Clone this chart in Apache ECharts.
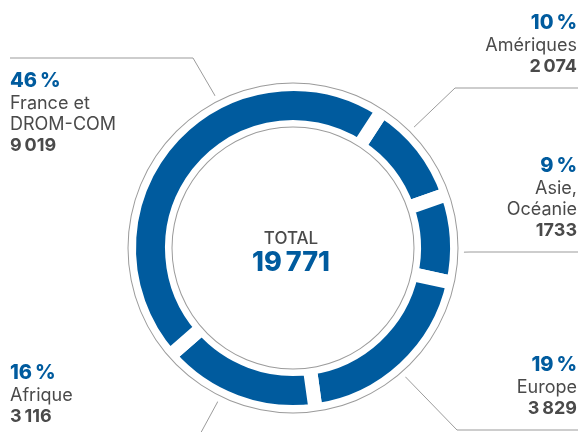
<!DOCTYPE html>
<html>
<head>
<meta charset="utf-8">
<script src="https://cdn.jsdelivr.net/npm/echarts@6/dist/echarts.min.js"></script>
<style>
  html, body { margin: 0; padding: 0; background: #fff; }
  #chart { width: 578px; height: 432px; }
</style>
</head>
<body>
<div id="chart"></div>
<script>
// zones, dans le sens horaire à partir des Amériques
const zones = ["Amériques", "Asie,\nOcéanie", "Europe", "Afrique", "France et\nDROM-COM"];
const effectifs = [2074, 1733, 3829, 3116, 9019];
const effectifsTexte = ["2\u2009074", "1733", "3\u2009829", "3\u2009116", "9\u2009019"];
const totalTexte = "19\u2009771";

const bleu = "#005b9e";
const gris = "#4a4a4a";
const trait = "#9b9b9b";

const chart = echarts.init(document.getElementById("chart"));
const cx = 293, cy = 248, rCercle = 165;

// point sur le cercle extérieur (angle en degrés depuis le haut, sens horaire)
function surCercle(a) {
  const r = a * Math.PI / 180;
  return [cx + rCercle * Math.sin(r), cy - rCercle * Math.cos(r)];
}

// placement des étiquettes et des traits de rappel
const placement = [
  { x: 577, y: 77, align: "right", va: "bottom", a: 45, coude: [455, 88], fin: [578, 88] },
  { x: 577, y: 241, align: "right", va: "bottom", a: 91.5, coude: [470, 252], fin: [578, 252] },
  { x: 577, y: 419, align: "right", va: "bottom", a: 139, coude: [457, 430], fin: [578, 430] },
  { x: 10, y: 427, align: "left", va: "bottom", a: 206, coude: [198, 438], fin: [0, 438] },
  { x: 10, y: 69, align: "left", va: "top", a: 333, coude: [193, 58], fin: [10, 58] }
];

const police = "Inter, 'Noto Sans', sans-serif";

const option = {
  animation: false,
  series: [
    {
      type: "pie",
      center: [cx, cy],
      radius: [121, 164],
      startAngle: 57,
      clockwise: true,
      avoidLabelOverlap: false,
      percentPrecision: 0,
      silent: true,
      itemStyle: {
        color: bleu,
        borderColor: "#fff",
        borderWidth: 14
      },
      label: {
        show: true,
        position: "outside",
        fontFamily: police,
        formatter: function (p) {
          return "{p|" + p.percent + "\u2009%}\n{n|" + p.name + "}\n{v|" + effectifsTexte[p.dataIndex] + "}";
        },
        rich: {
          p: { fontSize: 20, fontWeight: 800, color: bleu, lineHeight: 24, fontFamily: police },
          n: { fontSize: 18, color: gris, lineHeight: 21, fontFamily: police },
          v: { fontSize: 18, fontWeight: "bold", color: gris, lineHeight: 21, fontFamily: police }
        }
      },
      labelLine: {
        show: true,
        lineStyle: { color: trait, width: 1 }
      },
      labelLayout: function (params) {
        const l = placement[params.dataIndex];
        return {
          x: l.x,
          y: l.y,
          align: l.align,
          verticalAlign: l.va,
          labelLinePoints: [surCercle(l.a), l.coude, l.fin]
        };
      },
      data: zones.map(function (z, i) {
        return { name: z, value: effectifs[i] };
      })
    },
    {
      // cercle extérieur + total au centre
      type: "pie",
      center: [cx, cy],
      radius: [164.5, 165.5],
      silent: true,
      itemStyle: { color: trait },
      label: {
        show: true,
        position: "center",
        offset: [-2, 4],
        formatter: "{t|TOTAL}\n{v|" + totalTexte + "}",
        rich: {
          t: { fontSize: 17, fontWeight: 500, color: gris, lineHeight: 22, fontFamily: police },
          v: { fontSize: 27, fontWeight: 800, color: bleu, lineHeight: 26, fontFamily: police }
        }
      },
      labelLine: { show: false },
      data: [{ value: 1, name: "total" }]
    },
    {
      // cercle intérieur
      type: "pie",
      center: [cx, cy],
      radius: [120.5, 121.5],
      silent: true,
      itemStyle: { color: trait },
      label: { show: false },
      labelLine: { show: false },
      data: [{ value: 1 }]
    }
  ]
};

chart.setOption(option);
window.addEventListener("resize", function () {
  chart.resize();
});
</script>
</body>
</html>
